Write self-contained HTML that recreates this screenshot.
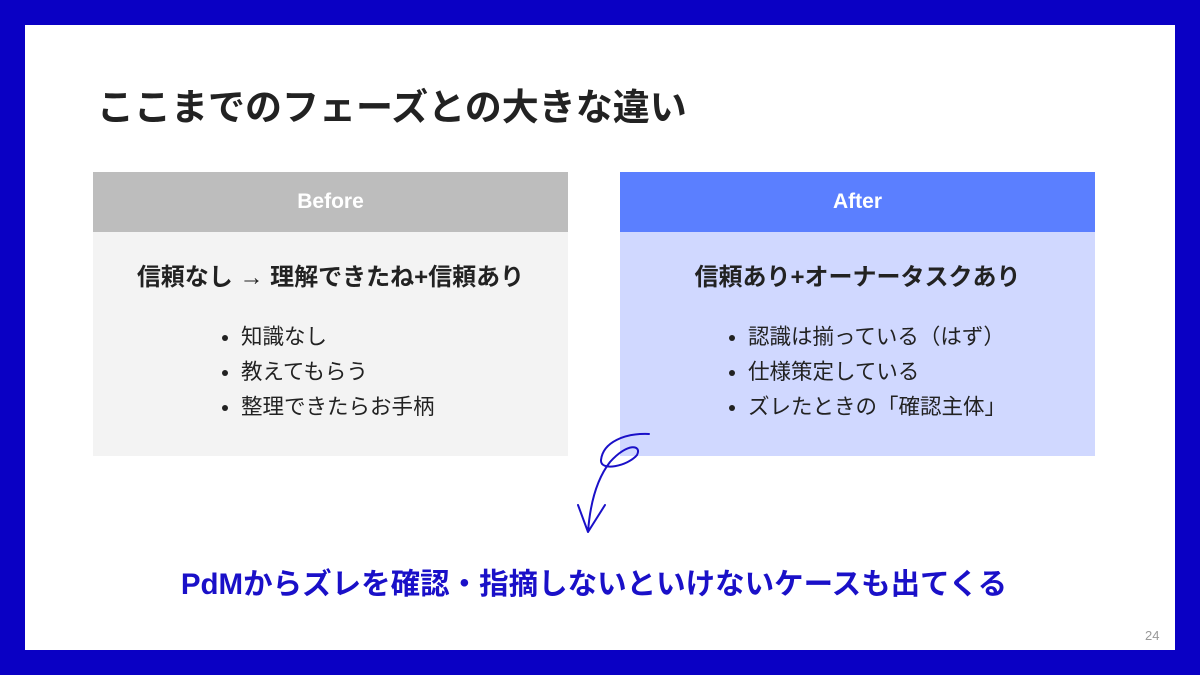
<!DOCTYPE html>
<html><head><meta charset="utf-8"><style>
body{margin:0;width:1200px;height:675px;background:#0a00c4;position:relative;overflow:hidden;font-family:"Liberation Sans","Noto Sans CJK JP",sans-serif}
.in{position:absolute;left:25px;top:25px;width:1150px;height:625px;background:#fff}
.t{position:absolute;left:97px;top:83px;font-size:37px;font-weight:bold;color:#222;line-height:50px}
.box{position:absolute;top:172px;width:475px;height:284px}
.hd{height:60px;line-height:60px;text-align:center;color:#fff;font-weight:bold;font-size:21px}
.sub{text-align:center;font-weight:bold;font-size:24px;color:#222;margin-top:29px;line-height:34px}
ul{margin:25px 0 0 0;padding:0 0 0 148px;font-size:21.5px;color:#222;line-height:35px}
.bt{position:absolute;left:-6px;width:1200px;top:564px;text-align:center;color:#1a10c8;font-weight:bold;font-size:29.5px;line-height:42px}
.pg{position:absolute;left:1145px;top:628px;font-size:13px;color:#999}
</style></head><body>
<div class="in"></div>
<div class="t">ここまでのフェーズとの大きな違い</div>
<div class="box" style="left:93px;background:#f3f3f3"><div class="hd" style="background:#bdbdbd">Before</div>
<div class="sub">信頼なし → 理解できたね+信頼あり</div>
<ul><li>知識なし</li><li>教えてもらう</li><li>整理できたらお手柄</li></ul></div>
<div class="box" style="left:620px;background:#d0d8ff"><div class="hd" style="background:#5b7fff">After</div>
<div class="sub">信頼あり+オーナータスクあり</div>
<ul style="padding-left:128px"><li>認識は揃っている（はず）</li><li>仕様策定している</li><li>ズレたときの「確認主体」</li></ul></div>
<svg style="position:absolute;left:0;top:0" width="1200" height="675"><path d="M649,434 C625,433 603,442 601,460 C600,472 628,466 637,455 C642,445 628,442 610,462 C596,480 590,505 588,532 M578,505 L588,532 L605,505" fill="none" stroke="#1a10c8" stroke-width="2" stroke-linecap="round" stroke-linejoin="round"/></svg>
<div class="bt">PdMからズレを確認・指摘しないといけないケースも出てくる</div>
<div class="pg">24</div>
</body></html>
